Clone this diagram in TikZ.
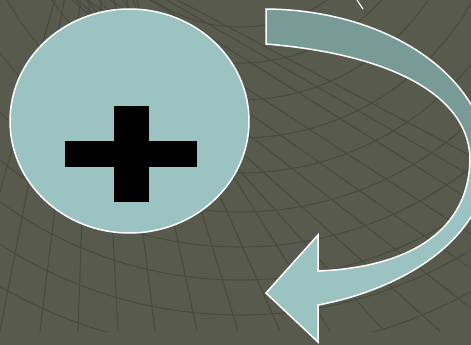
\documentclass[tikz,border=0pt]{standalone}
\usetikzlibrary{calc}
\definecolor{slate}{RGB}{88,90,78}
\definecolor{mesh}{RGB}{74,75,64}
\definecolor{seafoam}{RGB}{155,195,193}
\definecolor{seadeep}{RGB}{120,155,152}
\pgfdeclareverticalshading{ribbon}{100bp}{color(0bp)=(seafoam); color(51.5bp)=(seafoam); color(55.5bp)=(seadeep); color(100bp)=(seadeep)}
\tikzset{
  meshline/.style={draw=mesh, line width=1.1pt},
  disc/.style={fill=seafoam, draw=white, line width=1.5pt},
  bend arrow/.style={shading=ribbon, draw=white, line width=1.5pt},
  plusbar/.style={fill=black},
}

\begin{document}
\begin{tikzpicture}[x=1pt, y=-1pt]
  \useasboundingbox (0,0) rectangle (471,345);
  \fill[slate] (0,0) rectangle (471,345);
  % faint globe mesh behind everything
  \begin{scope}
    \clip (0,0) rectangle (471,331);
    \coordinate (pole) at (240,-127);
    \foreach \r in {118,154,190,227,265,300,339,374,407,442,478}
      \draw[meshline] (pole) circle[radius=\r];
    \foreach \xb/\ang in {-40/-16,0/-11,40/-7,78/-2,118/3,155/7,197/12,238/17,280/24,330/32,384/42,440/48,500/52,560/55,620/57,680/58,740/60,800/62}
      \draw[meshline] (\xb,331) -- ++({-90-\ang}:800);
  \end{scope}
  % circle with the plus sign
  \coordinate (c) at (129.5,121);
  \path[disc] (c) ellipse[x radius=119.5, y radius=112];
  \fill[plusbar] (114,106) rectangle (149,202);
  \fill[plusbar] (65,141) rectangle (197,167);
  % curved arrow coming back round to the left
  \path[bend arrow] (266,9) .. controls (390,10) and (485,78) .. (488,160)
    .. controls (487,240) and (400,290) .. (318,305)
    -- (318,342) -- (266,293) -- (318,235) -- (318,271)
    .. controls (395,268) and (468,240) .. (470,160)
    .. controls (470,100) and (400,55) .. (266,44) -- cycle;
  % bit of a stroke cut off at the top edge
  \coordinate (t1) at (357,0);
  \coordinate (t2) at (363,9);
  \draw[white, line width=1.2pt] (t1) -- (t2);
\end{tikzpicture}
\end{document}
